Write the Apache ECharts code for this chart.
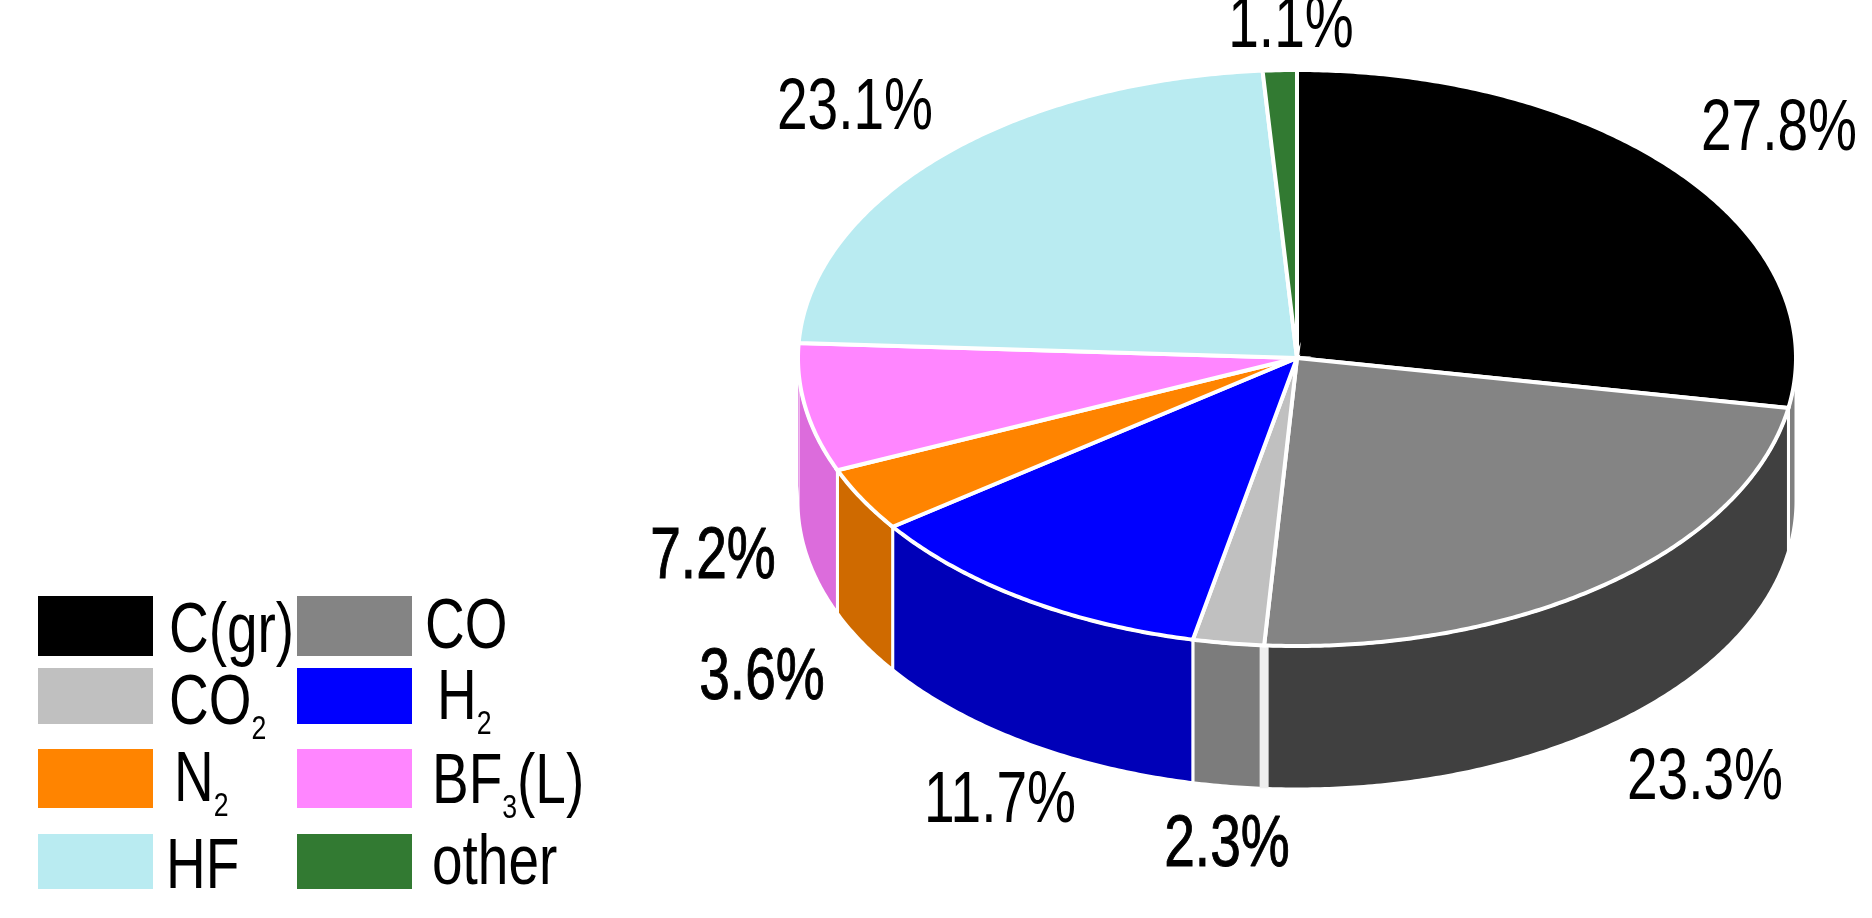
<!DOCTYPE html>
<html>
<head>
<meta charset="utf-8">
<style>html,body{margin:0;padding:0;background:#fff}#c{width:1872px;height:918px}</style>
<script src="https://cdn.jsdelivr.net/npm/echarts@6/dist/echarts.min.js"></script>
</head>
<body>
<div id="c"></div>
<script>
// ---- data ----
const categories = ['C(gr)', 'CO', 'CO2', 'H2', 'N2', 'BF3(L)', 'HF', 'other'];
const shares = [27.8, 23.3, 2.3, 11.7, 3.6, 7.2, 23.1, 1.1];
const shareLabels = ['27.8%', '23.3%', '2.3%', '11.7%', '3.6%', '7.2%', '23.1%', '1.1%'];
const legendLabels = ['C(gr)', 'CO', 'CO{sub|2}', 'H{sub|2}', 'N{sub|2}', 'BF{sub|3}(L)', 'HF', 'other'];

// ---- styles ----
const topColors = ['#000000', '#848484', '#c0c0c0', '#0000ff', '#ff8400', '#ff86ff', '#b9ebf1', '#327a32'];
const wallColors = ['#808080', '#404040', '#7c7c7c', '#0000b8', '#cf6a00', '#dc6cdc', '#90c0c8', '#205020'];
const FONT = '"Liberation Sans",Arial,sans-serif';
const PCT_FONT = 72, PCT_SCALE = 0.765, LEG_FONT = 70, LEG_SCALE = 0.785;

// ---- layout ----
const CX = 1297, CY = 358, RX = 499, RY = 288, DEPTH = 143;
const labelCenters = [[1779,130],[1705,779],[1227,846],[1000,802],[762,679],[713,558],[855,109],[1291,27]];
const labelBold = [0,0,1,0,1,1,0,0];
const wallSeamWidth = [0,0,9,0,0,0,0,0];
// swatch left, top, height
const swatchPos = [[38,596,60],[297,596,60],[38,668,56],[297,668,56],[38,749,59],[297,749,59],[38,834,55],[297,834,55]];
// legend text left, cap centre
const legendTextPos = [[169,633],[425,629],[169,705],[437,700],[174,782],[432,784],[166,869],[432,865]];

const total = shares.reduce((a, b) => a + b, 0);
const cumulative = shares.map((_, i) => shares.slice(0, i).reduce((a, b) => a + b, 0));
const rim = (deg, dy) => {
  const t = deg * Math.PI / 180;
  return [CX + RX * Math.sin(t), CY - RY * Math.cos(t) + (dy || 0)];
};

function renderSlice(i) {
  const a0 = cumulative[i] / total * 360, a1 = (cumulative[i] + shares[i]) / total * 360;
  const arc = [];
  const steps = Math.max(2, Math.ceil((a1 - a0) * 2));
  for (let k = 0; k <= steps; k++) arc.push(a0 + (a1 - a0) * k / steps);
  const children = [];
  // outer wall: the part facing the viewer (90..270 deg clockwise from top)
  const wa0 = Math.max(a0, 90), wa1 = Math.min(a1, 270);
  if (wa1 > wa0) {
    const ws = [wa0, ...arc.filter(a => a > wa0 && a < wa1), wa1];
    const pts = ws.map(a => rim(a, 0)).concat(ws.slice().reverse().map(a => rim(a, DEPTH)));
    children.push({type: 'polygon', shape: {points: pts}, z2: 1,
      style: {fill: wallColors[i], stroke: '#fff', lineWidth: 3, lineJoin: 'round'}});
    if (wallSeamWidth[i]) {
      const top = rim(a0, 0), bot = rim(a0, DEPTH);
      children.push({type: 'line', shape: {x1: top[0], y1: top[1], x2: bot[0], y2: bot[1]}, z2: 1,
        style: {stroke: '#eeeeee', lineWidth: wallSeamWidth[i]}});
    }
  }
  // the slice that crosses the left edge keeps a little wall past the leftmost point
  if (a0 < 270 && a1 > 270) {
    const ws = arc.filter(a => a >= 270 && a <= a1);
    const pts = ws.map(a => rim(a, 0)).concat(ws.slice().reverse().map(a => rim(a, DEPTH)));
    children.push({type: 'polygon', shape: {points: pts}, z2: 1, style: {fill: wallColors[i]}});
  }
  // top face
  children.push({type: 'polygon', shape: {points: [[CX, CY]].concat(arc.map(a => rim(a, 0)))}, z2: 2,
    style: {fill: topColors[i], stroke: '#fff', lineWidth: 4, lineJoin: 'miter'}});
  // percentage label
  children.push({type: 'text', z2: 3, x: labelCenters[i][0], y: labelCenters[i][1], scaleX: PCT_SCALE, style: {
    x: 0, y: 0, text: shareLabels[i],
    fontFamily: FONT, fontSize: PCT_FONT, fill: '#000', textAlign: 'center', textVerticalAlign: 'middle',
    stroke: labelBold[i] ? '#000' : null, lineWidth: labelBold[i] ? 1 : 0
  }});
  // legend text, horizontally condensed like the original lettering
  children.push({type: 'text', z2: 3, x: legendTextPos[i][0], y: legendTextPos[i][1], scaleX: LEG_SCALE, style: {
    x: 0, y: 0, text: legendLabels[i],
    fontFamily: FONT, fontSize: LEG_FONT, lineHeight: 84, fill: '#000', textAlign: 'left', textVerticalAlign: 'middle',
    rich: {sub: {fontFamily: FONT, fontSize: 34, lineHeight: 34, fill: '#000', verticalAlign: 'bottom'}}
  }});
  return {type: 'group', children};
}

const series = categories.map((name, i) => ({
  type: 'custom',
  name,
  coordinateSystem: 'none',
  silent: true,
  animation: false,
  itemStyle: {color: topColors[i]},
  data: [[shares[i]]],
  renderItem: () => renderSlice(i)
}));

const legend = categories.map((name, i) => ({
  data: [name],
  left: swatchPos[i][0],
  top: swatchPos[i][1],
  icon: 'rect',
  itemWidth: 115,
  itemHeight: swatchPos[i][2],
  selectedMode: false,
  padding: 0,
  formatter: () => ''
}));

const chart = echarts.init(document.getElementById('c'), null, {renderer: 'canvas'});
chart.setOption({animation: false, backgroundColor: '#fff', legend, series});
</script>
</body>
</html>
